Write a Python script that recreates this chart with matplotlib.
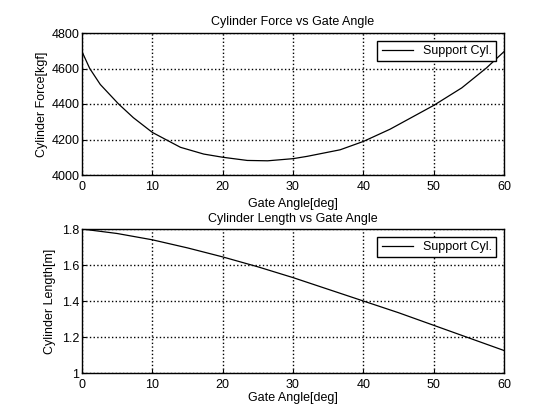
import matplotlib.pyplot as plt

# values
gate_angle = [0, 1.1, 2.6, 5.2, 7.3, 10, 11.9, 14, 17.3, 20, 23.5, 26.4, 30,
              32, 36.7, 40, 43.8, 50, 54, 57.5, 60]
cyl_force = [4695, 4600, 4510, 4400, 4323, 4240, 4200, 4156, 4118, 4100, 4082, 4080, 4092,
             4105, 4142, 4189, 4258, 4392, 4491, 4603, 4695]

len_angle = [0, 5, 10, 15, 20, 25, 30, 35, 40, 45, 50, 55, 60]
cyl_length = [1.80, 1.775, 1.74, 1.695, 1.645, 1.59, 1.53, 1.465, 1.40, 1.335, 1.265, 1.195, 1.125]

xticks = [0, 10, 20, 30, 40, 50, 60]
force_ticks = [4000, 4200, 4400, 4600, 4800]
length_ticks = [1, 1.2, 1.4, 1.6, 1.8]
length_ticklabels = ["1", "1.2", "1.4", "1.6", "1.8"]

plt.rcParams['font.family'] = ['Liberation Sans', 'DejaVu Sans']
plt.rcParams['font.size'] = 9

fig = plt.figure(figsize=(5.57, 4.13), dpi=100)
ax1 = fig.add_axes([82 / 557, 1 - 175 / 413, 422 / 557, 142 / 413])
ax2 = fig.add_axes([82 / 557, 1 - 373 / 413, 422 / 557, 144 / 413])


def style(ax):
    ax.grid(True, color='black', linestyle=':', linewidth=1.0)
    ax.tick_params(direction='in', length=3, width=0.8, colors='black', labelsize=9)
    ax.tick_params(axis='x', pad=4)
    ax.tick_params(axis='y', pad=2)
    for s in ax.spines.values():
        s.set_linewidth(1.0)
    ax.set_xlim(0, 60)
    ax.set_xticks(xticks)


ax1.plot(gate_angle, cyl_force, color='black', linewidth=0.9, label='Support Cyl.')
style(ax1)
ax1.set_ylim(4000, 4800)
ax1.set_yticks(force_ticks)
ax1.set_xlabel("Gate Angle[deg]", labelpad=4)
ax1.set_ylabel("Cylinder Force[kgf]", labelpad=2)
ax1.set_title("Cylinder Force vs Gate Angle", fontsize=9, pad=6)
leg1 = ax1.legend(loc='upper right', fancybox=False, edgecolor='black', framealpha=1,
                  handlelength=2.5, borderaxespad=0.6, borderpad=0.35)
leg1.get_frame().set_linewidth(1.0)

ax2.plot(len_angle, cyl_length, color='black', linewidth=0.9, label='Support Cyl.')
style(ax2)
ax2.set_ylim(1, 1.8)
ax2.set_yticks(length_ticks)
ax2.set_yticklabels(length_ticklabels)
ax2.set_xlabel("Gate Angle[deg]", labelpad=1)
ax2.set_ylabel("Cylinder Length[m]", labelpad=4)
ax2.set_title("Cylinder Length vs Gate Angle", fontsize=9, pad=5)
leg2 = ax2.legend(loc='upper right', fancybox=False, edgecolor='black', framealpha=1,
                  handlelength=2.5, borderaxespad=0.6, borderpad=0.35)
leg2.get_frame().set_linewidth(1.0)

fig.savefig("out.png", dpi=100)
